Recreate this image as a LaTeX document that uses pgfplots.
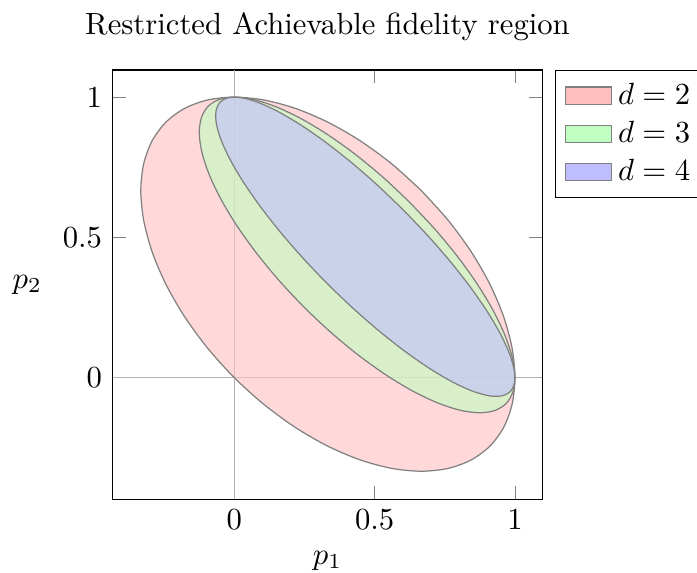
\documentclass[border=0pt]{standalone}
\usepackage{pgfplots}
\pgfplotsset{compat=1.18}
\usetikzlibrary{calc}
\begin{document}
\begin{tikzpicture}
\begin{axis}[
  scale only axis,
  width=140pt, height=140pt,
  xmin=-0.433, xmax=1.097, ymin=-0.433, ymax=1.097,
  xtick={0,0.5,1}, ytick={0,0.5,1},
  title={Restricted Achievable fidelity region},
  xlabel={$p_1$}, ylabel={$p_2$},
  ylabel style={rotate=-90},
  legend pos=outer north east,
  legend cell align=left,
  legend image code/.code={\draw[#1, fill opacity=1] (0cm,-0.1cm) rectangle (0.525cm,0.1cm);},
]
\addplot[gray!60, very thin, forget plot] coordinates {(0,-0.433) (0,1.097)};
\addplot[gray!60, very thin, forget plot] coordinates {(-0.433,0) (1.097,0)};
\addplot[smooth, fill=red!25, fill opacity=0.6, draw=gray] coordinates {
(0.66667,0.66667) (0.76186,0.56134) (0.84403,0.44909) (0.91069,0.33333) (0.95980,0.21756)
(0.98987,0.10531) (1.0,0.0) (0.98987,-0.09519) (0.95979,-0.17737) (0.91068,-0.24402)
(0.84403,-0.29313) (0.76185,-0.32321) (0.66667,-0.33333) (0.56135,-0.32321) (0.44910,-0.29314)
(0.33333,-0.24403) (0.21757,-0.17737) (0.10532,-0.09520) (0,0) (-0.09520,0.10532)
(-0.17737,0.21757) (-0.24403,0.33333) (-0.29314,0.44910) (-0.32321,0.56135) (-0.33333,0.66667)
(-0.32321,0.76185) (-0.29313,0.84403) (-0.24402,0.91068) (-0.17737,0.95979) (-0.09519,0.98987)
(0,1) (0.10531,0.98987) (0.21756,0.95980) (0.33333,0.91069) (0.44909,0.84403)
(0.56134,0.76186) (0.66667,0.66667)
};
\addlegendentry{$d=2$}
\addplot[smooth, fill=green!25, fill opacity=0.6, draw=gray] coordinates {
(0.625,0.625) (0.71424,0.53006) (0.79507,0.43231) (0.86505,0.33471) (0.92202,0.24024)
(0.96427,0.15177) (0.99053,0.07197) (0.99998,0.00328) (0.99233,-0.05221) (0.96783,-0.09283)
(0.92721,-0.11733) (0.87172,-0.12498) (0.80303,-0.11553) (0.72323,-0.08927) (0.63476,-0.04702)
(0.54029,0.00995) (0.44269,0.07993) (0.34494,0.16076) (0.25,0.25) (0.16076,0.34494)
(0.07993,0.44269) (0.00995,0.54029) (-0.04702,0.63476) (-0.08927,0.72323) (-0.11553,0.80303)
(-0.12498,0.87172) (-0.11733,0.92721) (-0.09283,0.96783) (-0.05221,0.99233) (0.00328,0.99998)
(0.07197,0.99053) (0.15177,0.96427) (0.24024,0.92202) (0.33471,0.86505) (0.43231,0.79507)
(0.53006,0.71424) (0.625,0.625)
};
\addlegendentry{$d=3$}
\addplot[smooth, fill=blue!25, fill opacity=0.6, draw=gray] coordinates {
(0.6,0.6) (0.68765,0.50831) (0.76858,0.41534) (0.84034,0.32394) (0.90075,0.23687)
(0.94796,0.15680) (0.98056,0.08612) (0.99753,0.02701) (0.99838,-0.01874) (0.98307,-0.04973)
(0.95208,-0.06504) (0.90633,-0.06419) (0.84722,-0.04722) (0.77654,-0.01462) (0.69647,0.03259)
(0.60940,0.09300) (0.51800,0.16476) (0.42503,0.24569) (0.33334,0.33334) (0.24569,0.42503)
(0.16476,0.51800) (0.09300,0.60940) (0.03259,0.69647) (-0.01462,0.77654) (-0.04722,0.84722)
(-0.06419,0.90633) (-0.06504,0.95208) (-0.04973,0.98307) (-0.01874,0.99838) (0.02701,0.99753)
(0.08612,0.98056) (0.15680,0.94796) (0.23687,0.90075) (0.32394,0.84034) (0.41534,0.76858)
(0.50831,0.68765) (0.6,0.6)
};
\addlegendentry{$d=4$}
\end{axis}
\pgfresetboundingbox
\path ($(current axis.south west)+(-36.8pt,-23.8pt)$) rectangle ($(current axis.north east)+(50.5pt,22.8pt)$);
\end{tikzpicture}
\end{document}
